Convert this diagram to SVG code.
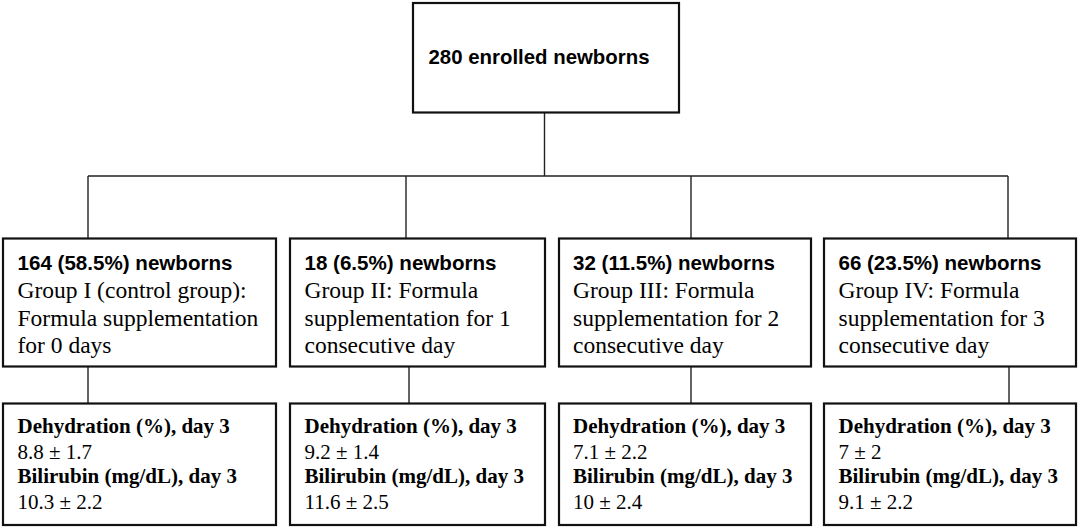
<svg xmlns="http://www.w3.org/2000/svg" width="1084" height="530" viewBox="0 0 1084 530">
<style>
.box{fill:#fff;stroke:#111;stroke-width:2.2}
.con{fill:none;stroke:#222;stroke-width:1.4}
.hs{font-family:"Liberation Sans",Arial,sans-serif;font-weight:bold;font-size:21px;fill:#000}
.g{font-family:"Liberation Serif","Times New Roman",serif;font-size:23.5px;fill:#000}
.rb{font-family:"Liberation Serif","Times New Roman",serif;font-weight:bold;font-size:21px;fill:#000}
.rv{font-family:"Liberation Serif","Times New Roman",serif;font-size:21px;fill:#000}
</style>
<rect width="1084" height="530" fill="#fff"/>
<g id="connectors">
<path class="con" d="M544.5 112.5V176M88 176H1008M88 176V238M406 176V238M691 176V238M1008 176V238"/>
<path class="con" d="M88 367V403M409 367V403M691 367V403M1009 367V403"/>
</g>
<g id="top">
<rect class="box" x="413" y="3" width="266" height="109.5"/>
<text class="hs" x="428.5" y="64" textLength="221" lengthAdjust="spacingAndGlyphs">280 enrolled newborns</text>
</g>
<g id="group1">
<rect class="box" x="3" y="238.5" width="273" height="128"/>
<text class="hs" x="17.5" y="270" textLength="215" lengthAdjust="spacingAndGlyphs">164 (58.5%) newborns</text>
<text class="g" x="17.5" y="298">Group I (control group):</text>
<text class="g" x="17.5" y="325.5">Formula supplementation</text>
<text class="g" x="17.5" y="353">for 0 days</text>
</g>
<g id="group2">
<rect class="box" x="290" y="238.5" width="255" height="128"/>
<text class="hs" x="304.5" y="270" textLength="192" lengthAdjust="spacingAndGlyphs">18 (6.5%) newborns</text>
<text class="g" x="304.5" y="298">Group II: Formula</text>
<text class="g" x="304.5" y="325.5">supplementation for 1</text>
<text class="g" x="304.5" y="353">consecutive day</text>
</g>
<g id="group3">
<rect class="box" x="559" y="238.5" width="252" height="128"/>
<text class="hs" x="573" y="270" textLength="202" lengthAdjust="spacingAndGlyphs">32 (11.5%) newborns</text>
<text class="g" x="573" y="298">Group III: Formula</text>
<text class="g" x="573" y="325.5">supplementation for 2</text>
<text class="g" x="573" y="353">consecutive day</text>
</g>
<g id="group4">
<rect class="box" x="824" y="238.5" width="252" height="128"/>
<text class="hs" x="838.5" y="270" textLength="203" lengthAdjust="spacingAndGlyphs">66 (23.5%) newborns</text>
<text class="g" x="838.5" y="298">Group IV: Formula</text>
<text class="g" x="838.5" y="325.5">supplementation for 3</text>
<text class="g" x="838.5" y="353">consecutive day</text>
</g>
<g id="result1">
<rect class="box" x="3" y="403.5" width="273" height="121.5"/>
<text class="rb" x="17.5" y="433">Dehydration (%), day 3</text>
<text class="rv" x="17.5" y="459">8.8 ± 1.7</text>
<text class="rb" x="17.5" y="483">Bilirubin (mg/dL), day 3</text>
<text class="rv" x="17.5" y="509">10.3 ± 2.2</text>
</g>
<g id="result2">
<rect class="box" x="290" y="403.5" width="255" height="121.5"/>
<text class="rb" x="304.5" y="433">Dehydration (%), day 3</text>
<text class="rv" x="304.5" y="459">9.2 ± 1.4</text>
<text class="rb" x="304.5" y="483">Bilirubin (mg/dL), day 3</text>
<text class="rv" x="304.5" y="509">11.6 ± 2.5</text>
</g>
<g id="result3">
<rect class="box" x="559" y="403.5" width="252" height="121.5"/>
<text class="rb" x="573" y="433">Dehydration (%), day 3</text>
<text class="rv" x="573" y="459">7.1 ± 2.2</text>
<text class="rb" x="573" y="483">Bilirubin (mg/dL), day 3</text>
<text class="rv" x="573" y="509">10 ± 2.4</text>
</g>
<g id="result4">
<rect class="box" x="824" y="403.5" width="252" height="121.5"/>
<text class="rb" x="838.5" y="433">Dehydration (%), day 3</text>
<text class="rv" x="838.5" y="459">7 ± 2</text>
<text class="rb" x="838.5" y="483">Bilirubin (mg/dL), day 3</text>
<text class="rv" x="838.5" y="509">9.1 ± 2.2</text>
</g>
</svg>
